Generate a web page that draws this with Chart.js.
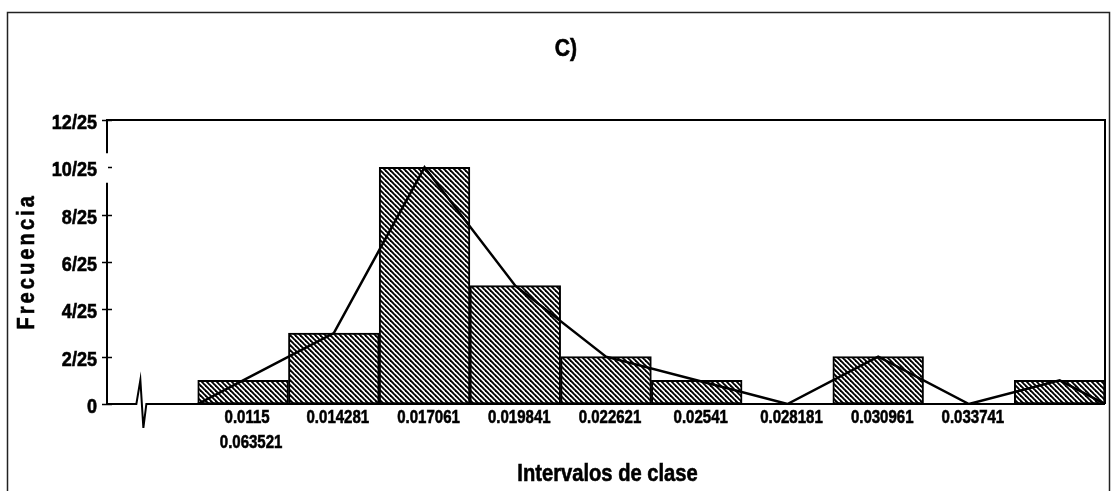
<!DOCTYPE html>
<html>
<head>
<meta charset="utf-8">
<script src="https://cdn.jsdelivr.net/npm/chart.js@4/dist/chart.umd.min.js"></script>
<style>
  html, body { margin: 0; padding: 0; background: #fff; }
  #wrap { width: 1112px; height: 491px; }
</style>
</head>
<body>
<div id="wrap"><canvas id="histo" width="1112" height="491"></canvas></div>
<script>
// Class limits shown under the bars (first slot is the broken-axis gap)
const classLabels = ['', ['0.0115', '0.063521'], '0.014281', '0.017061', '0.019841',
  '0.022621', '0.02541', '0.028181', '0.030961', '0.033741', ''];
// Absolute frequency of each class (out of the sample size)
const classCounts = [1, 3, 10, 5, 2, 1, 0, 2, 0, 1];
const sampleSize = 25;
// Y ticks, in counts
const yTickValues = [0, 2, 4, 6, 8, 10, 12];

const FONT = "'Liberation Sans', Arial, sans-serif";

// Bars: empty gap slot first, then one bar per class
const barValues = [null].concat(classCounts);
// Frequency polygon: closes on the baseline at the outer class edges
const polygonPoints = [{ x: 0.5, y: 0 }]
  .concat(classCounts.map((v, i) => ({ x: i + 1, y: v })))
  .concat([{ x: classCounts.length + 0.5, y: 0 }]);

const yLabel = v => (v === 0 ? '0' : v + '/' + sampleSize);

// Diagonal hatch fill
function hatchPattern() {
  const s = 5;
  const c = document.createElement('canvas');
  c.width = s; c.height = s;
  const g = c.getContext('2d');
  g.fillStyle = '#fff';
  g.fillRect(0, 0, s, s);
  g.strokeStyle = '#000';
  g.lineWidth = 1.9;
  for (const off of [-s, 0, s]) {
    g.beginPath();
    g.moveTo(off - 1, -1);
    g.lineTo(off + s + 1, s + 1);
    g.stroke();
  }
  return g.createPattern(c, 'repeat');
}

// Narrow heavy text: bold face squeezed horizontally, lightly outlined
function narrowText(ctx, text, x, y, size, squeeze, align) {
  ctx.save();
  ctx.translate(x, y);
  ctx.scale(squeeze, 1);
  ctx.font = 'bold ' + size + 'px ' + FONT;
  ctx.textAlign = align || 'center';
  ctx.textBaseline = 'middle';
  ctx.fillStyle = '#000';
  ctx.strokeStyle = '#000';
  ctx.lineWidth = 0.6;
  ctx.fillText(text, 0, 0);
  ctx.strokeText(text, 0, 0);
  ctx.restore();
}

const decorations = {
  id: 'decorations',
  beforeDraw(chart) {
    const ctx = chart.ctx;
    ctx.save();
    ctx.fillStyle = '#fff';
    ctx.fillRect(0, 0, chart.width, chart.height);
    ctx.restore();
  },
  afterDraw(chart) {
    const ctx = chart.ctx;
    const a = chart.chartArea;
    const ys = chart.scales.y;
    const xs = chart.scales.x;
    ctx.save();

    // outer frame
    ctx.strokeStyle = '#222';
    ctx.lineWidth = 1.5;
    ctx.strokeRect(7.5, 12.5, 1102, 520);

    // plot frame (left axis has a small break near the top)
    ctx.strokeStyle = '#000';
    ctx.lineWidth = 2;
    const L = Math.round(a.left), R = Math.round(a.right);
    const T = Math.round(a.top), B = Math.round(a.bottom);
    const gapTop = ys.getPixelForValue(10.6), gapBot = ys.getPixelForValue(9.35);
    ctx.beginPath();
    ctx.moveTo(L, gapTop); ctx.lineTo(L, T); ctx.lineTo(R, T); ctx.lineTo(R, B);
    ctx.stroke();
    // baseline with a break mark in the empty first slot
    const bx = xs.getPixelForValue(0) - 12;
    ctx.beginPath();
    ctx.moveTo(L, gapBot); ctx.lineTo(L, B); ctx.lineTo(bx - 4, B);
    ctx.lineTo(bx, B - 24); ctx.lineTo(bx + 3, B + 24); ctx.lineTo(bx + 6, B);
    ctx.lineTo(R, B);
    ctx.stroke();

    // y tick marks crossing the axis, with their labels
    ctx.lineWidth = 1.5;
    ys.ticks.forEach(t => {
      const py = Math.round(ys.getPixelForValue(t.value)) + 0.5;
      const inGap = py > gapTop && py < gapBot;
      ctx.beginPath();
      ctx.moveTo(inGap ? L + 1 : L - 5, py);
      ctx.lineTo(L + 5, py);
      ctx.stroke();
      narrowText(ctx, yLabel(t.value), L - 10, py + 3, 21, 0.86, 'right');
    });

    // class limits under the bars
    xs.ticks.forEach((t, i) => {
      const lbl = classLabels[i];
      const lines = Array.isArray(lbl) ? lbl : [lbl];
      const px = xs.getPixelForTick(i) + 4;
      lines.forEach((s, j) => {
        if (s) narrowText(ctx, s, px + j * 4, B + 14 + j * 25, 19, 0.79, 'center');
      });
    });

    // titles
    narrowText(ctx, 'C)', 566, 49, 24, 0.88, 'center');
    narrowText(ctx, 'Intervalos de clase', 607.5, 474, 24, 0.84, 'center');

    ctx.translate(27, 263);
    ctx.rotate(-Math.PI / 2);
    ctx.scale(0.84, 1);
    ctx.font = 'bold 24px ' + FONT;
    ctx.fillStyle = '#000';
    ctx.strokeStyle = '#000';
    ctx.lineWidth = 0.6;
    ctx.textAlign = 'center';
    ctx.textBaseline = 'middle';
    ctx.letterSpacing = (3 / 0.84).toFixed(2) + 'px';
    ctx.fillText('Frecuencia', 2, 0);
    ctx.strokeText('Frecuencia', 2, 0);
    ctx.restore();
  }
};

new Chart(document.getElementById('histo'), {
  type: 'bar',
  data: {
    labels: classLabels,
    datasets: [
      {
        type: 'line',
        data: polygonPoints,
        xAxisID: 'xp',
        borderColor: '#000',
        borderWidth: 2.5,
        pointRadius: 0,
        tension: 0,
        fill: false,
        order: 0
      },
      {
        type: 'bar',
        data: barValues,
        backgroundColor: hatchPattern(),
        borderColor: '#000',
        borderWidth: 2,
        borderSkipped: false,
        grouped: false,
        barPercentage: 1,
        categoryPercentage: 1,
        order: 1
      }
    ]
  },
  options: {
    responsive: false,
    animation: false,
    devicePixelRatio: 1,
    layout: { padding: { top: 120, left: 0, right: 7, bottom: 0 } },
    plugins: { legend: { display: false }, tooltip: { enabled: false }, title: { display: false } },
    scales: {
      x: {
        type: 'category',
        offset: true,
        grid: { display: false, drawTicks: false },
        border: { display: false },
        ticks: { display: false, autoSkip: false, maxRotation: 0 },
        afterFit(s) { s.height = 87; }
      },
      xp: {
        type: 'linear',
        display: false,
        offset: false,
        min: -0.5,
        max: classLabels.length - 0.5
      },
      y: {
        min: 0,
        max: 12,
        grid: { display: false, drawTicks: false },
        border: { display: false },
        afterBuildTicks(s) { s.ticks = yTickValues.map(v => ({ value: v })); },
        ticks: { display: false },
        afterFit(s) { s.width = 107; }
      }
    }
  },
  plugins: [decorations]
});
</script>
</body>
</html>
